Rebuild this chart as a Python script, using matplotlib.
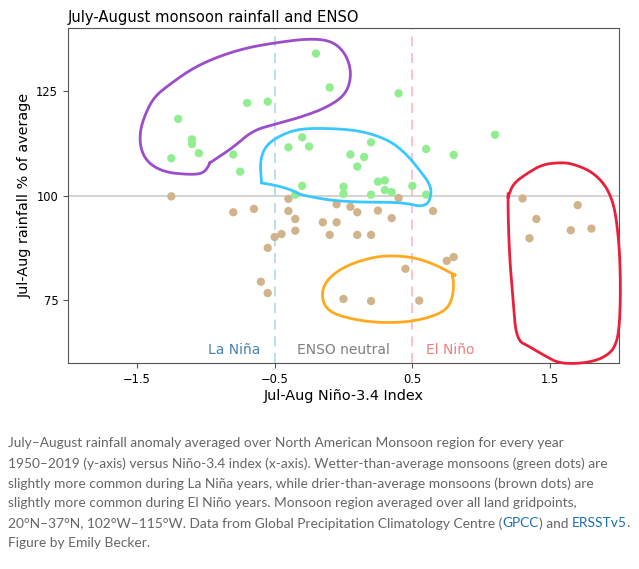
import matplotlib
matplotlib.use("Agg")
from matplotlib import pyplot as plt
import numpy as np

# wetter-than-average years (green)
wet_nino = [-0.20, -0.10, -0.70, -0.55, -1.20, -1.10, -1.10, -1.05, -1.25, -0.80, -0.75,
            -0.30, -0.40, -0.25, 0.05, 0.15, 0.10, 0.20, 0.25, -0.30, 0.00, 0.00, 0.20,
            -0.35, 0.40, 1.10, 0.60, 0.80, 0.30, 0.30, 0.35, 0.50, 0.60]
wet_rain = [133.9, 125.8, 122.1, 122.4, 118.3, 113.4, 112.3, 110.1, 108.9, 109.8, 105.7,
            113.9, 111.5, 111.7, 109.8, 109.2, 106.9, 112.7, 103.3, 102.3, 102.1, 100.4, 100.2,
            100.2, 124.4, 114.5, 111.1, 109.7, 103.6, 101.3, 100.8, 102.3, 100.2]

# drier-than-average years (brown)
dry_nino = [-1.25, -0.80, -0.65, -0.40, -0.40, -0.35, -0.35, -0.45, -0.50, -0.55, -0.60, -0.55,
            -0.15, -0.05, -0.10, -0.05, 0.05, 0.10, 0.10, 0.20, 0.25, 0.00, 0.20, 0.40,
            0.35, 0.65, 0.75, 0.80, 0.45, 0.55, 1.30, 1.40, 1.35, 1.70, 1.65, 1.80]
dry_rain = [99.8, 96.0, 96.8, 99.2, 96.3, 94.4, 91.6, 90.8, 90.1, 87.5, 79.4, 76.7,
            93.6, 93.6, 90.6, 97.9, 97.3, 96.0, 90.6, 90.6, 96.4, 75.3, 74.8, 99.4,
            94.6, 96.3, 84.4, 85.3, 82.5, 74.9, 99.3, 94.4, 89.8, 97.7, 91.7, 92.1]

# hand-drawn loops (data coords)
purple_x = [-0.97, -0.80, -0.66, -0.49, -0.32, -0.12, 0.02, 0.06, 0.02, -0.08, -0.25, -0.49,
            -0.70, -0.90, -1.09, -1.26, -1.38, -1.45, -1.48, -1.47, -1.41, -1.29, -1.12, -1.03,
            -0.99, -0.97]
purple_y = [107.8, 111.5, 115.5, 117.1, 118.6, 121.0, 124.2, 129.0, 133.7, 136.9, 137.5, 136.5,
            135.3, 133.3, 130.5, 126.6, 123.4, 118.6, 114.7, 110.7, 107.5, 105.5, 105.0, 105.2,
            106.4, 107.8]
cyan_x = [-0.595, -0.607, -0.559, -0.414, -0.269, -0.003, 0.167, 0.336, 0.457, 0.554, 0.626,
          0.639, 0.614, 0.554, 0.481, 0.360, 0.118, -0.075, -0.172, -0.317, -0.366, -0.486, -0.595]
cyan_y = [103.2, 108.3, 112.3, 115.1, 116.1, 115.9, 115.1, 113.1, 109.9, 106.0, 102.8,
          100.4, 98.0, 97.4, 98.0, 98.4, 98.4, 98.8, 99.3, 100.2, 101.2, 102.4, 103.0]
orange_x = [0.808, 0.747, 0.650, 0.505, 0.312, 0.167, -0.003, -0.123, -0.160, -0.136, -0.051,
            0.167, 0.409, 0.602, 0.747, 0.795, 0.800, 0.784, 0.808]
orange_y = [81.0, 82.1, 83.7, 85.3, 85.7, 84.9, 82.9, 79.8, 76.6, 73.4, 71.4,
            69.8, 69.6, 70.6, 72.6, 75.8, 79.8, 81.0, 81.0]
red_x = [1.195, 1.231, 1.328, 1.449, 1.594, 1.666, 1.787, 1.884, 1.945, 1.981, 2.010, 2.010,
         1.981, 1.884, 1.739, 1.570, 1.473, 1.352, 1.255, 1.231, 1.207, 1.195, 1.195]
red_y = [99.6, 102.8, 105.2, 107.5, 107.9, 107.5, 106.0, 103.2, 99.6, 94.8, 84.5, 71.0,
         63.9, 61.1, 59.9, 59.9, 61.5, 63.9, 65.5, 75.0, 84.5, 94.8, 100.4]

caption = ["July\u2013August rainfall anomaly averaged over North American Monsoon region for every year",
           "1950\u20132019 (y-axis) versus Ni\u00f1o-3.4 index (x-axis). Wetter-than-average monsoons (green dots) are",
           "slightly more common during La Ni\u00f1a years, while drier-than-average monsoons (brown dots) are",
           "slightly more common during El Ni\u00f1o years. Monsoon region averaged over all land gridpoints,",
           None,
           "Figure by Emily Becker."]
line5 = [("20\u00b0N\u201337\u00b0N, 102\u00b0W\u2013115\u00b0W. Data from Global Precipitation Climatology Centre (", "#666666"),
         ("GPCC", "#1a6fb5"), (") and ", "#666666"), ("ERSSTv5", "#1a6fb5"), (".", "#666666")]


def smooth(xs, ys, n=3):
    # chaikin corner cutting so the loops look hand drawn rather than jagged
    p = np.column_stack([xs, ys])
    for _ in range(n):
        q = 0.75 * p[:-1] + 0.25 * p[1:]
        r = 0.25 * p[:-1] + 0.75 * p[1:]
        p = np.vstack([p[:1], np.column_stack([q, r]).reshape(-1, 2), p[-1:]])
    return p[:, 0], p[:, 1]


fig = plt.figure(figsize=(6.39, 5.69), dpi=100)
ax = fig.add_axes([0.1064, 0.362, 0.8623, 0.5888])

ax.axhline(100, color="#cccccc", lw=1.2, zorder=1)
ax.axvline(-0.5, color="#add8e6", lw=1.2, ls=(0, (6, 4)), zorder=1)
ax.axvline(0.5, color="#ffb6c1", lw=1.2, ls=(0, (6, 4)), zorder=1)

ax.scatter(wet_nino, wet_rain, s=36, color="#90ee90", edgecolors="none", zorder=3)
ax.scatter(dry_nino, dry_rain, s=36, color="#d2b48c", edgecolors="none", zorder=3)

ax.plot(*smooth(purple_x, purple_y), color="#9b4dca", lw=2, zorder=4)
ax.plot(*smooth(cyan_x, cyan_y), color="#3cc8ff", lw=2, zorder=4)
ax.plot(*smooth(orange_x, orange_y), color="#ffaa1e", lw=2, zorder=4)
ax.plot(*smooth(red_x, red_y), color="#e8203a", lw=2, zorder=4, clip_on=False)

ax.text(-0.6, 63, "La Ni\u00f1a", color="#4682b4", fontsize=10, ha="right", va="center")
ax.text(0.0, 63, "ENSO neutral", color="#808080", fontsize=10, ha="center", va="center")
ax.text(0.6, 63, "El Ni\u00f1o", color="#f08080", fontsize=10, ha="left", va="center")

ax.set_xlim(-2, 2)
ax.set_ylim(60, 140)
ax.set_xticks([-1.5, -0.5, 0.5, 1.5])
ax.set_xticklabels(["\u22121.5", "\u22120.5", "0.5", "1.5"])
ax.set_yticks([75, 100, 125])
ax.tick_params(labelsize=8.3, length=3.5, color="#555555")
for sp in ax.spines.values():
    sp.set_color("#555555")
ax.set_xlabel("Jul-Aug Ni\u00f1o-3.4 Index", fontsize=10.4, labelpad=2)
ax.set_ylabel("Jul-Aug rainfall % of average", fontsize=10.4, labelpad=3)
ax.set_title("July-August monsoon rainfall and ENSO", fontsize=10.6, loc="left", pad=4)

# caption below the chart
cap_font = dict(family="Lato", fontsize=9.9, va="center")
ys = [443.3, 463.3, 483.3, 503.3, 523.3, 543.3]
for txt, py in zip(caption, ys):
    if txt is not None:
        fig.text(8 / 639, 1 - py / 569, txt, color="#666666", **cap_font)

fig.canvas.draw()
r = fig.canvas.get_renderer()
xpos = 8
for part, col in line5:
    t = fig.text(xpos / 639, 1 - ys[4] / 569, part, color=col, **cap_font)
    xpos += t.get_window_extent(renderer=r).width

fig.savefig("out.png", dpi=100)
